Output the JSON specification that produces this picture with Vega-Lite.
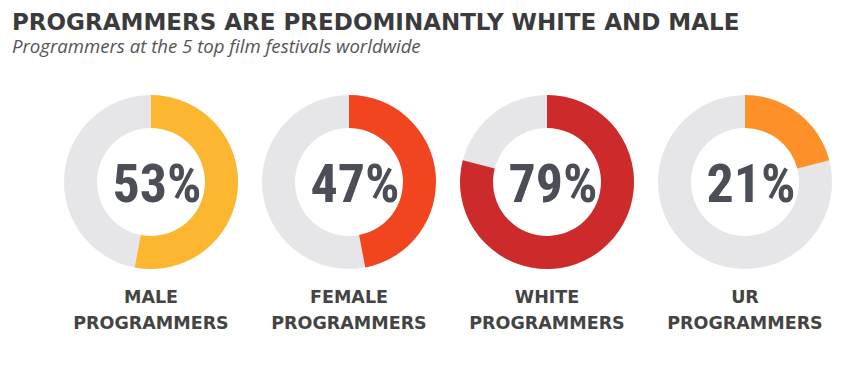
{
  "$schema": "https://vega.github.io/schema/vega-lite/v6.json",
  "width": 792,
  "height": 174,
  "autosize": {"type": "none"},
  "padding": {"left": 52, "top": 95, "right": 15, "bottom": 107},
  "background": "white",
  "config": {"view": {"stroke": null}},
  "title": {
    "text": "PROGRAMMERS ARE PREDOMINANTLY WHITE AND MALE",
    "subtitle": "Programmers at the 5 top film festivals worldwide",
    "anchor": "start",
    "frame": "bounds",
    "dx": -40,
    "offset": 38,
    "font": "DejaVu Sans",
    "fontSize": 23,
    "fontWeight": "bold",
    "color": "#3b3b3d",
    "subtitleFont": "Open Sans",
    "subtitleFontSize": 18.6,
    "subtitleFontStyle": "italic",
    "subtitleColor": "#555555",
    "subtitlePadding": 3
  },
  "data": {
    "values": [
      {"group": "MALE", "label": "MALE PROGRAMMERS", "share": 0.53},
      {"group": "FEMALE", "label": "FEMALE PROGRAMMERS", "share": 0.47},
      {"group": "WHITE", "label": "WHITE PROGRAMMERS", "share": 0.79},
      {"group": "UR", "label": "UR PROGRAMMERS", "share": 0.21}
    ]
  },
  "encoding": {
    "x": {
      "field": "group",
      "type": "nominal",
      "sort": ["MALE", "FEMALE", "WHITE", "UR"],
      "scale": {"type": "band", "paddingInner": 0, "paddingOuter": 0},
      "axis": null
    }
  },
  "layer": [
    {
      "mark": {"type": "arc", "innerRadius": 54, "outerRadius": 87, "theta": 0, "theta2": 6.2832, "color": "#e6e6e8"}
    },
    {
      "mark": {"type": "arc", "innerRadius": 54, "outerRadius": 87},
      "encoding": {
        "theta": {"field": "share", "type": "quantitative", "stack": null, "scale": {"domain": [0, 1], "range": [0, 6.283185]}},
        "theta2": {"datum": 0},
        "color": {
          "field": "group",
          "type": "nominal",
          "scale": {"domain": ["MALE", "FEMALE", "WHITE", "UR"], "range": ["#fdb630", "#f0451f", "#cd2a2b", "#fd9029"]},
          "legend": null
        }
      }
    },
    {
      "mark": {"type": "text", "font": "'Noto Sans ExtraCondensed', 'Noto Sans Condensed', 'Roboto Condensed', 'Liberation Sans Narrow', Roboto, sans-serif", "fontWeight": "bold", "fontSize": 54, "color": "#4b4e56", "baseline": "alphabetic", "dy": 20, "dx": 6},
      "encoding": {
        "text": {"field": "share", "type": "quantitative", "format": ".0%"}
      }
    },
    {
      "mark": {"type": "text", "font": "DejaVu Sans", "fontWeight": "bold", "fontSize": 17.5, "color": "#444444", "baseline": "alphabetic", "dy": 121, "lineBreak": " ", "lineHeight": 26},
      "encoding": {
        "text": {"field": "label", "type": "nominal"}
      }
    }
  ]
}
